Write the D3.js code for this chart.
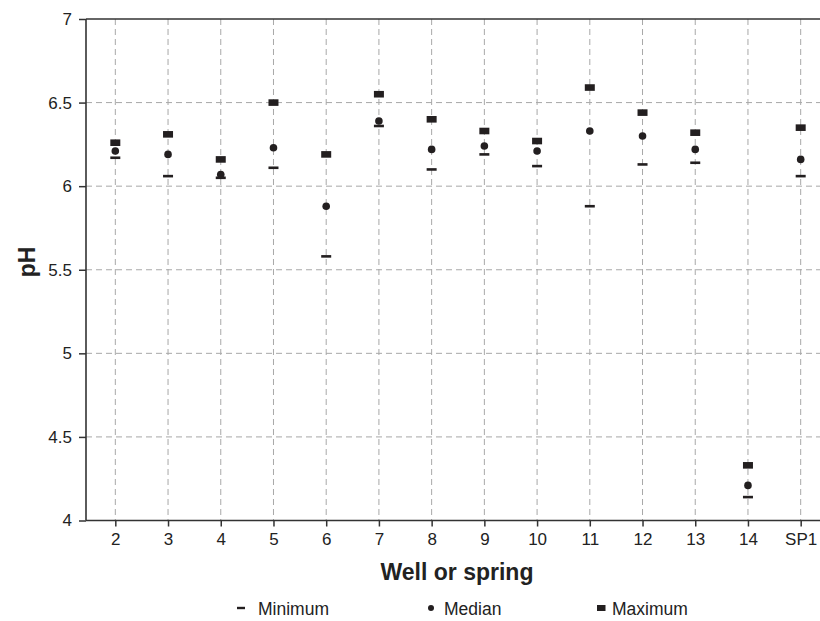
<!DOCTYPE html>
<html>
<head>
<meta charset="utf-8">
<script src="https://cdn.jsdelivr.net/npm/d3@7"></script>
<style>
  body { margin: 0; background: #fff; }
  svg { display: block; font-family: "Liberation Sans", Arial, sans-serif; }
</style>
</head>
<body>
<svg id="chart" width="820" height="621"></svg>
<script>
// well / spring names
const sites = ["2", "3", "4", "5", "6", "7", "8", "9", "10", "11", "12", "13", "14", "SP1"];
// pH values
const phMin = [6.17, 6.06, 6.05, 6.11, 5.58, 6.36, 6.10, 6.19, 6.12, 5.88, 6.13, 6.14, 4.14, 6.06];
const phMedian = [6.21, 6.19, 6.07, 6.23, 5.88, 6.39, 6.22, 6.24, 6.21, 6.33, 6.30, 6.22, 4.21, 6.16];
const phMax = [6.26, 6.31, 6.16, 6.50, 6.19, 6.55, 6.40, 6.33, 6.27, 6.59, 6.44, 6.32, 4.33, 6.35];
const yTicks = [4, 4.5, 5, 5.5, 6, 6.5, 7];
const legendNames = ["Minimum", "Median", "Maximum"];

const ink = "#231f20";
const svg = d3.select("#chart");

const plotLeft = 86, plotTop = 19, plotBottom = 520.5;

const x = d3.scalePoint().domain(sites).range([plotLeft, 830]).padding(0.556);
const y = d3.scaleLinear().domain([4, 7]).range([plotBottom, plotTop]);

// grid
const grid = svg.append("g").attr("class", "grid")
    .attr("stroke", "#a8a8a8").attr("stroke-width", 1).attr("stroke-dasharray", "6,4");
grid.selectAll(".hg").data(yTicks.filter(d => d > 4 && d < 7)).enter().append("line")
    .attr("x1", plotLeft).attr("x2", 820)
    .attr("y1", d => y(d)).attr("y2", d => y(d));
grid.selectAll(".vg").data(sites).enter().append("line")
    .attr("x1", d => x(d)).attr("x2", d => x(d))
    .attr("y1", plotTop).attr("y2", plotBottom);

// axes
const yAxis = svg.append("g").attr("transform", "translate(" + plotLeft + ",0)")
    .call(d3.axisLeft(y).tickValues(yTicks).tickFormat(d3.format("")).tickSizeOuter(0).tickSize(7).tickPadding(7));
const xAxis = svg.append("g").attr("transform", "translate(0," + plotBottom + ")")
    .call(d3.axisBottom(x).tickSizeOuter(0).tickSize(6).tickPadding(6));
[xAxis, yAxis].forEach(a => {
    a.select(".domain").remove();
    a.selectAll(".tick line").attr("stroke", "#333").attr("stroke-width", 1.5);
    a.selectAll(".tick text").attr("fill", "#222").style("font-size", "17px");
});
// frame lines (top + bottom + left)
svg.append("line").attr("x1", plotLeft).attr("x2", 820).attr("y1", plotBottom).attr("y2", plotBottom)
    .attr("stroke", "#333").attr("stroke-width", 1.6);
svg.append("line").attr("x1", plotLeft).attr("x2", 820).attr("y1", plotTop).attr("y2", plotTop)
    .attr("stroke", "#333").attr("stroke-width", 1.6);
svg.append("line").attr("x1", plotLeft).attr("x2", plotLeft).attr("y1", plotTop).attr("y2", plotBottom)
    .attr("stroke", "#333").attr("stroke-width", 1.6);

// axis titles
svg.append("text").attr("transform", "translate(34.5,262) rotate(-90)")
    .attr("text-anchor", "middle").attr("font-weight", "bold").attr("font-size", "23px")
    .attr("fill", "#222").text("pH");
svg.append("text").attr("x", 457).attr("y", 580)
    .attr("text-anchor", "middle").attr("font-weight", "bold").attr("font-size", "23px")
    .attr("fill", "#222").text("Well or spring");

// markers
const marks = svg.append("g").attr("fill", ink);
marks.selectAll(".mn").data(sites).enter().append("rect")
    .attr("x", d => x(d) - 5).attr("y", (d, i) => y(phMin[i]) - 1.3)
    .attr("width", 10).attr("height", 2.6);
marks.selectAll(".md").data(sites).enter().append("circle")
    .attr("cx", d => x(d)).attr("cy", (d, i) => y(phMedian[i])).attr("r", 3.8);
marks.selectAll(".mx").data(sites).enter().append("rect")
    .attr("x", d => x(d) - 5).attr("y", (d, i) => y(phMax[i]) - 3.3)
    .attr("width", 10).attr("height", 6.6);

// legend
const legX = [237, 431, 597];
const leg = svg.append("g");
legendNames.forEach((name, i) => {
    const g = leg.append("g").attr("transform", "translate(" + legX[i] + ",608)");
    if (i === 0) g.append("rect").attr("x", 0).attr("y", -1.2).attr("width", 8).attr("height", 2.4).attr("fill", ink);
    if (i === 1) g.append("circle").attr("cx", 0).attr("cy", 0).attr("r", 3).attr("fill", ink);
    if (i === 2) g.append("rect").attr("x", 0).attr("y", -3).attr("width", 8.5).attr("height", 6).attr("fill", ink);
    g.append("text").attr("x", i === 0 ? 21 : (i === 1 ? 13 : 15)).attr("y", 6.5)
        .attr("font-size", "17.5px").attr("fill", "#222").text(name);
});
</script>
</body>
</html>
